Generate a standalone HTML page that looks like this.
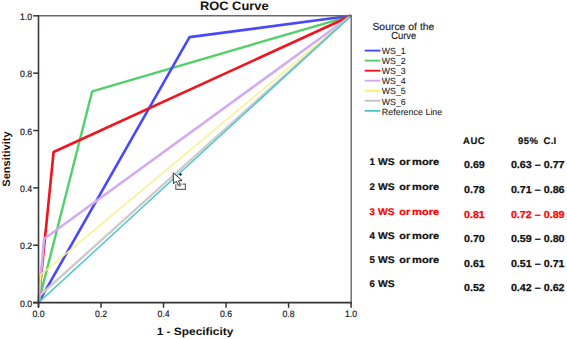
<!DOCTYPE html>
<html><head><meta charset="utf-8"><style>
html,body{margin:0;padding:0;background:#fff;}
svg{display:block;font-family:"Liberation Sans", sans-serif;text-rendering:geometricPrecision;}
</style></head><body>
<svg width="567" height="339" viewBox="0 0 567 339">
<rect width="567" height="339" fill="#fff"/>
<polyline points="38.5,302.6 92.2,91.3 351.1,15.8" fill="none" stroke="#52d06a" stroke-width="2.4" stroke-linejoin="round"/>
<polyline points="38.5,302.6 189.5,37.1 351.1,15.8" fill="none" stroke="#4848ff" stroke-width="2.6" stroke-linejoin="round"/>
<polyline points="38.5,302.6 53.6,152.0 351.1,15.8" fill="none" stroke="#f0141e" stroke-width="2.6" stroke-linejoin="round"/>
<polyline points="38.5,302.6 44.0,239.0 351.1,15.8" fill="none" stroke="#d4aaf0" stroke-width="2.6" stroke-linejoin="round"/>
<polyline points="38.5,302.6 40.6,274.8 351.1,15.8" fill="none" stroke="#f7f282" stroke-width="1.4" stroke-linejoin="round"/>
<polyline points="38.5,302.6 40.0,295.3 351.1,15.8" fill="none" stroke="#cccacc" stroke-width="2.4" stroke-linejoin="round"/>
<line x1="38.5" y1="302.6" x2="351.1" y2="15.8" stroke="#4fc8c8" stroke-width="1.5"/>
<line x1="38.5" y1="15.8" x2="351.1" y2="15.8" stroke="#6a6a6a" stroke-width="1.5"/>
<line x1="351.20000000000005" y1="15.100000000000001" x2="351.20000000000005" y2="302.6" stroke="#666" stroke-width="1.4"/>
<line x1="38.5" y1="15.100000000000001" x2="38.5" y2="307.6" stroke="#3a3a3a" stroke-width="1.6"/>
<line x1="33.2" y1="302.6" x2="351.8" y2="302.6" stroke="#333" stroke-width="1.6"/>
<line x1="33.2" y1="302.60" x2="38.5" y2="302.60" stroke="#333" stroke-width="1.5"/>
<line x1="38.50" y1="302.6" x2="38.50" y2="307.8" stroke="#333" stroke-width="1.5"/>
<text x="32.2" y="306.70" text-anchor="end" font-size="9.3" fill="#222" stroke="#222" stroke-width="0.2" textLength="12.2" lengthAdjust="spacingAndGlyphs">0.0</text>
<text x="38.50" y="316.7" text-anchor="middle" font-size="9.3" fill="#222" stroke="#222" stroke-width="0.2" textLength="12.1" lengthAdjust="spacingAndGlyphs">0.0</text>
<line x1="33.2" y1="245.24" x2="38.5" y2="245.24" stroke="#333" stroke-width="1.5"/>
<line x1="101.02" y1="302.6" x2="101.02" y2="307.8" stroke="#333" stroke-width="1.5"/>
<text x="32.2" y="249.34" text-anchor="end" font-size="9.3" fill="#222" stroke="#222" stroke-width="0.2" textLength="12.2" lengthAdjust="spacingAndGlyphs">0.2</text>
<text x="101.02" y="316.7" text-anchor="middle" font-size="9.3" fill="#222" stroke="#222" stroke-width="0.2" textLength="12.1" lengthAdjust="spacingAndGlyphs">0.2</text>
<line x1="33.2" y1="187.88" x2="38.5" y2="187.88" stroke="#333" stroke-width="1.5"/>
<line x1="163.54" y1="302.6" x2="163.54" y2="307.8" stroke="#333" stroke-width="1.5"/>
<text x="32.2" y="191.98" text-anchor="end" font-size="9.3" fill="#222" stroke="#222" stroke-width="0.2" textLength="12.2" lengthAdjust="spacingAndGlyphs">0.4</text>
<text x="163.54" y="316.7" text-anchor="middle" font-size="9.3" fill="#222" stroke="#222" stroke-width="0.2" textLength="12.1" lengthAdjust="spacingAndGlyphs">0.4</text>
<line x1="33.2" y1="130.52" x2="38.5" y2="130.52" stroke="#333" stroke-width="1.5"/>
<line x1="226.06" y1="302.6" x2="226.06" y2="307.8" stroke="#333" stroke-width="1.5"/>
<text x="32.2" y="134.62" text-anchor="end" font-size="9.3" fill="#222" stroke="#222" stroke-width="0.2" textLength="12.2" lengthAdjust="spacingAndGlyphs">0.6</text>
<text x="226.06" y="316.7" text-anchor="middle" font-size="9.3" fill="#222" stroke="#222" stroke-width="0.2" textLength="12.1" lengthAdjust="spacingAndGlyphs">0.6</text>
<line x1="33.2" y1="73.16" x2="38.5" y2="73.16" stroke="#333" stroke-width="1.5"/>
<line x1="288.58" y1="302.6" x2="288.58" y2="307.8" stroke="#333" stroke-width="1.5"/>
<text x="32.2" y="77.26" text-anchor="end" font-size="9.3" fill="#222" stroke="#222" stroke-width="0.2" textLength="12.2" lengthAdjust="spacingAndGlyphs">0.8</text>
<text x="288.58" y="316.7" text-anchor="middle" font-size="9.3" fill="#222" stroke="#222" stroke-width="0.2" textLength="12.1" lengthAdjust="spacingAndGlyphs">0.8</text>
<line x1="33.2" y1="15.80" x2="38.5" y2="15.80" stroke="#333" stroke-width="1.5"/>
<line x1="351.10" y1="302.6" x2="351.10" y2="307.8" stroke="#333" stroke-width="1.5"/>
<text x="32.2" y="19.90" text-anchor="end" font-size="9.3" fill="#222" stroke="#222" stroke-width="0.2" textLength="12.2" lengthAdjust="spacingAndGlyphs">1.0</text>
<text x="351.10" y="316.7" text-anchor="middle" font-size="9.3" fill="#222" stroke="#222" stroke-width="0.2" textLength="12.1" lengthAdjust="spacingAndGlyphs">1.0</text>
<text x="199.9" y="9.9" font-size="12.3" font-weight="bold" fill="#111" textLength="68.7" lengthAdjust="spacingAndGlyphs">ROC Curve</text>
<text transform="translate(9.6,186.7) rotate(-90)" x="0" y="0" font-size="10.8" font-weight="bold" fill="#111" textLength="55.3" lengthAdjust="spacingAndGlyphs">Sensitivity</text>
<text x="156.7" y="334.6" font-size="10.6" font-weight="bold" fill="#111" textLength="76.6" lengthAdjust="spacingAndGlyphs">1 - Specificity</text>
<text x="372.4" y="29.5" font-size="10.2" fill="#222" stroke="#222" stroke-width="0.15" textLength="62" lengthAdjust="spacingAndGlyphs">Source of the</text>
<text x="391.2" y="39.4" font-size="10.2" fill="#222" stroke="#222" stroke-width="0.15" textLength="25.1" lengthAdjust="spacingAndGlyphs">Curve</text>
<line x1="364.7" y1="50.60" x2="380.5" y2="50.60" stroke="#4848ff" stroke-width="1.9"/>
<text x="381.8" y="53.80" font-size="8.9" fill="#222" stroke="#222" stroke-width="0.08" textLength="23.9" lengthAdjust="spacingAndGlyphs">WS_1</text>
<line x1="364.7" y1="60.64" x2="380.5" y2="60.64" stroke="#52d06a" stroke-width="1.9"/>
<text x="381.8" y="63.94" font-size="8.9" fill="#222" stroke="#222" stroke-width="0.08" textLength="23.9" lengthAdjust="spacingAndGlyphs">WS_2</text>
<line x1="364.7" y1="70.68" x2="380.5" y2="70.68" stroke="#f0141e" stroke-width="1.9"/>
<text x="381.8" y="74.08" font-size="8.9" fill="#222" stroke="#222" stroke-width="0.08" textLength="23.9" lengthAdjust="spacingAndGlyphs">WS_3</text>
<line x1="364.7" y1="80.72" x2="380.5" y2="80.72" stroke="#d4aaf0" stroke-width="1.9"/>
<text x="381.8" y="84.22" font-size="8.9" fill="#222" stroke="#222" stroke-width="0.08" textLength="23.9" lengthAdjust="spacingAndGlyphs">WS_4</text>
<line x1="364.7" y1="90.76" x2="380.5" y2="90.76" stroke="#f8f070" stroke-width="1.9"/>
<text x="381.8" y="94.36" font-size="8.9" fill="#222" stroke="#222" stroke-width="0.08" textLength="23.9" lengthAdjust="spacingAndGlyphs">WS_5</text>
<line x1="364.7" y1="100.80" x2="380.5" y2="100.80" stroke="#c4c4c4" stroke-width="1.9"/>
<text x="381.8" y="104.50" font-size="8.9" fill="#222" stroke="#222" stroke-width="0.08" textLength="23.9" lengthAdjust="spacingAndGlyphs">WS_6</text>
<line x1="364.7" y1="110.84" x2="380.5" y2="110.84" stroke="#4cc6c6" stroke-width="1.9"/>
<text x="381.8" y="114.64" font-size="8.9" fill="#222" stroke="#222" stroke-width="0.08" textLength="60.5" lengthAdjust="spacingAndGlyphs">Reference Line</text>
<text x="463.1" y="144.0" font-size="9.5" font-weight="bold" fill="#111" stroke="#111" stroke-width="0.2" textLength="21.5" lengthAdjust="spacing">AUC</text>
<text x="518.1" y="144.0" font-size="9.5" font-weight="bold" fill="#111" stroke="#111" stroke-width="0.2" textLength="19.8" lengthAdjust="spacing">95%</text>
<text x="543.6" y="144.0" font-size="9.5" font-weight="bold" fill="#111" stroke="#111" stroke-width="0.2" textLength="12.6" lengthAdjust="spacing">C.I</text>
<text x="369.6" y="165.2" font-size="9.7" font-weight="bold" fill="#111" stroke="#111" stroke-width="0.22">1</text>
<text x="378.1" y="165.2" font-size="9.7" font-weight="bold" fill="#111" stroke="#111" stroke-width="0.22" textLength="16.6" lengthAdjust="spacingAndGlyphs">WS</text>
<text x="399.3" y="165.2" font-size="9.7" font-weight="bold" fill="#111" stroke="#111" stroke-width="0.22" textLength="10.8" lengthAdjust="spacingAndGlyphs">or</text>
<text x="412.1" y="165.2" font-size="9.7" font-weight="bold" fill="#111" stroke="#111" stroke-width="0.22" textLength="27.1" lengthAdjust="spacingAndGlyphs">more</text>
<text x="464.0" y="168.3" font-size="10.1" font-weight="bold" fill="#111" stroke="#111" stroke-width="0.25" textLength="20.8" lengthAdjust="spacingAndGlyphs">0.69</text>
<text x="510.9" y="168.3" font-size="10.1" font-weight="bold" fill="#111" stroke="#111" stroke-width="0.25" textLength="53.7" lengthAdjust="spacingAndGlyphs">0.63 – 0.77</text>
<text x="369.6" y="189.8" font-size="9.7" font-weight="bold" fill="#111" stroke="#111" stroke-width="0.22">2</text>
<text x="378.1" y="189.8" font-size="9.7" font-weight="bold" fill="#111" stroke="#111" stroke-width="0.22" textLength="16.6" lengthAdjust="spacingAndGlyphs">WS</text>
<text x="399.3" y="189.8" font-size="9.7" font-weight="bold" fill="#111" stroke="#111" stroke-width="0.22" textLength="10.8" lengthAdjust="spacingAndGlyphs">or</text>
<text x="412.1" y="189.8" font-size="9.7" font-weight="bold" fill="#111" stroke="#111" stroke-width="0.22" textLength="27.1" lengthAdjust="spacingAndGlyphs">more</text>
<text x="464.0" y="193.2" font-size="10.1" font-weight="bold" fill="#111" stroke="#111" stroke-width="0.25" textLength="20.8" lengthAdjust="spacingAndGlyphs">0.78</text>
<text x="510.9" y="193.2" font-size="10.1" font-weight="bold" fill="#111" stroke="#111" stroke-width="0.25" textLength="53.7" lengthAdjust="spacingAndGlyphs">0.71 – 0.86</text>
<text x="369.6" y="214.6" font-size="9.7" font-weight="bold" fill="#f00" stroke="#f00" stroke-width="0.22">3</text>
<text x="378.1" y="214.6" font-size="9.7" font-weight="bold" fill="#f00" stroke="#f00" stroke-width="0.22" textLength="16.6" lengthAdjust="spacingAndGlyphs">WS</text>
<text x="399.3" y="214.6" font-size="9.7" font-weight="bold" fill="#f00" stroke="#f00" stroke-width="0.22" textLength="10.8" lengthAdjust="spacingAndGlyphs">or</text>
<text x="412.1" y="214.6" font-size="9.7" font-weight="bold" fill="#f00" stroke="#f00" stroke-width="0.22" textLength="27.1" lengthAdjust="spacingAndGlyphs">more</text>
<text x="464.0" y="217.5" font-size="10.1" font-weight="bold" fill="#f00" stroke="#f00" stroke-width="0.25" textLength="20.8" lengthAdjust="spacingAndGlyphs">0.81</text>
<text x="510.9" y="217.5" font-size="10.1" font-weight="bold" fill="#f00" stroke="#f00" stroke-width="0.25" textLength="53.7" lengthAdjust="spacingAndGlyphs">0.72 – 0.89</text>
<text x="369.6" y="238.9" font-size="9.7" font-weight="bold" fill="#111" stroke="#111" stroke-width="0.22">4</text>
<text x="378.1" y="238.9" font-size="9.7" font-weight="bold" fill="#111" stroke="#111" stroke-width="0.22" textLength="16.6" lengthAdjust="spacingAndGlyphs">WS</text>
<text x="399.3" y="238.9" font-size="9.7" font-weight="bold" fill="#111" stroke="#111" stroke-width="0.22" textLength="10.8" lengthAdjust="spacingAndGlyphs">or</text>
<text x="412.1" y="238.9" font-size="9.7" font-weight="bold" fill="#111" stroke="#111" stroke-width="0.22" textLength="27.1" lengthAdjust="spacingAndGlyphs">more</text>
<text x="464.0" y="241.9" font-size="10.1" font-weight="bold" fill="#111" stroke="#111" stroke-width="0.25" textLength="20.8" lengthAdjust="spacingAndGlyphs">0.70</text>
<text x="510.9" y="241.9" font-size="10.1" font-weight="bold" fill="#111" stroke="#111" stroke-width="0.25" textLength="53.7" lengthAdjust="spacingAndGlyphs">0.59 – 0.80</text>
<text x="369.6" y="262.9" font-size="9.7" font-weight="bold" fill="#111" stroke="#111" stroke-width="0.22">5</text>
<text x="378.1" y="262.9" font-size="9.7" font-weight="bold" fill="#111" stroke="#111" stroke-width="0.22" textLength="16.6" lengthAdjust="spacingAndGlyphs">WS</text>
<text x="399.3" y="262.9" font-size="9.7" font-weight="bold" fill="#111" stroke="#111" stroke-width="0.22" textLength="10.8" lengthAdjust="spacingAndGlyphs">or</text>
<text x="412.1" y="262.9" font-size="9.7" font-weight="bold" fill="#111" stroke="#111" stroke-width="0.22" textLength="27.1" lengthAdjust="spacingAndGlyphs">more</text>
<text x="464.0" y="266.5" font-size="10.1" font-weight="bold" fill="#111" stroke="#111" stroke-width="0.25" textLength="20.8" lengthAdjust="spacingAndGlyphs">0.61</text>
<text x="510.9" y="266.5" font-size="10.1" font-weight="bold" fill="#111" stroke="#111" stroke-width="0.25" textLength="53.7" lengthAdjust="spacingAndGlyphs">0.51 – 0.71</text>
<text x="369.6" y="287.2" font-size="9.7" font-weight="bold" fill="#111" stroke="#111" stroke-width="0.22">6</text>
<text x="378.1" y="287.2" font-size="9.7" font-weight="bold" fill="#111" stroke="#111" stroke-width="0.22" textLength="16.6" lengthAdjust="spacingAndGlyphs">WS</text>
<text x="464.0" y="290.8" font-size="10.1" font-weight="bold" fill="#111" stroke="#111" stroke-width="0.25" textLength="20.8" lengthAdjust="spacingAndGlyphs">0.52</text>
<text x="510.9" y="290.8" font-size="10.1" font-weight="bold" fill="#111" stroke="#111" stroke-width="0.25" textLength="53.7" lengthAdjust="spacingAndGlyphs">0.42 – 0.62</text>
<g>
<path d="M175.8,184.2 L175.8,189.3 L185.4,189.3 L185.4,184.2 L182.6,184.2" fill="none" stroke="#6a6a6a" stroke-width="1.2"/>
<path d="M173.2,172.9 L173.5,183.7 L176.3,181.3 L178.3,185.4 L180.2,184.6 L178.5,180.8 L182.1,180.5 Z" fill="#fff" stroke="#151515" stroke-width="0.85" stroke-linejoin="miter"/>
<path d="M177.6,183.3 Q177.8,186.6 179.9,186.3 Q181.6,185.9 181.1,183.4" fill="none" stroke="#6a6a6a" stroke-width="0.9"/>
<path d="M180.5,172.9 L182.1,174.5 L180.5,176.1 L178.9,174.5 Z" fill="#222"/>
</g>
</svg>
</body></html>
